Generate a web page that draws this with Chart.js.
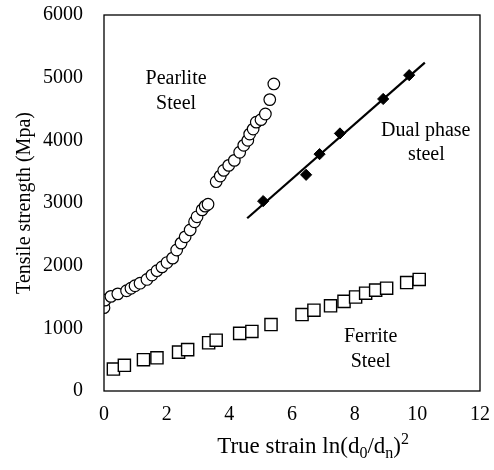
<!DOCTYPE html>
<html>
<head>
<meta charset="utf-8">
<script src="https://cdn.jsdelivr.net/npm/chart.js@4.4.0/dist/chart.umd.min.js"></script>
<style>
html, body { margin: 0; padding: 0; background: #fff; }
#wrap { width: 494px; height: 470px; }
</style>
</head>
<body>
<div id="wrap"><canvas id="chartSteel"></canvas></div>
<script>
// values
var pearliteX = [0.00, 0.03, 0.22, 0.44, 0.72, 0.86, 0.99, 1.15, 1.37, 1.53, 1.69, 1.85, 2.01, 2.19, 2.32, 2.46, 2.59, 2.75, 2.89, 2.97, 3.13, 3.23, 3.32,
                 3.58, 3.71, 3.82, 3.98, 4.16, 4.33, 4.46, 4.59, 4.65, 4.76, 4.86, 5.01, 5.15, 5.29, 5.42];
var pearliteY = [1330, 1450, 1510, 1550, 1600, 1640, 1680, 1720, 1780, 1850, 1920, 1980, 2050, 2120, 2250, 2360, 2460, 2570, 2700, 2780, 2890, 2950, 2980,
                 3340, 3430, 3520, 3600, 3680, 3810, 3920, 4000, 4100, 4180, 4290, 4330, 4420, 4650, 4900];

var ferriteX = [0.30, 0.65, 1.26, 1.69, 2.38, 2.67, 3.34, 3.58, 4.33, 4.72, 5.33, 6.32, 6.70, 7.23, 7.66, 8.03, 8.35, 8.67, 9.02, 9.66, 10.06];
var ferriteY = [350, 410, 500, 530, 620, 660, 770, 810, 920, 950, 1060, 1220, 1290, 1360, 1430, 1500, 1560, 1610, 1640, 1730, 1780];

var dualX = [5.08, 6.45, 6.88, 7.53, 8.91, 9.74];
var dualY = [3030, 3450, 3780, 4110, 4660, 5040];

// fitted line through the dual phase points (end points)
var dualLineX = [4.57, 10.24];
var dualLineY = [2756, 5239];

var xTicks = [0, 2, 4, 6, 8, 10, 12];
var yTicks = [0, 1000, 2000, 3000, 4000, 5000, 6000];

// text notes placed in data units
var notes = [
    { text: "Pearlite", x: 2.30, y: 4990 },
    { text: "Steel", x: 2.30, y: 4590 },
    { text: "Dual phase", x: 10.27, y: 4150 },
    { text: "steel", x: 10.29, y: 3765 },
    { text: "Ferrite", x: 8.51, y: 865 },
    { text: "Steel", x: 8.51, y: 465 }
];

var serif = "'Liberation Serif', 'Times New Roman', serif";

function toPoints(xs, ys) {
    var arr = [];
    for (var i = 0; i < xs.length; i++) {
        arr.push({ x: xs[i], y: ys[i] });
    }
    return arr;
}

var framePlugin = {
    id: 'frame',
    afterDatasetsDraw: function (chart) {
        var a = chart.chartArea;
        var ctx = chart.ctx;
        ctx.save();
        ctx.strokeStyle = '#000';
        ctx.lineWidth = 1.3;
        ctx.strokeRect(a.left, a.top, a.right - a.left, a.bottom - a.top);
        ctx.restore();
    }
};

var notesPlugin = {
    id: 'notes',
    afterDatasetsDraw: function (chart) {
        var ctx = chart.ctx;
        var xs = chart.scales.x, ys = chart.scales.y;
        ctx.save();
        ctx.fillStyle = '#000';
        ctx.font = "20px " + serif;
        ctx.textAlign = 'center';
        ctx.textBaseline = 'middle';
        notes.forEach(function (n) {
            ctx.fillText(n.text, xs.getPixelForValue(n.x), ys.getPixelForValue(n.y));
        });
        ctx.restore();
    }
};

// x title with sub/superscripts: True strain ln(d0/dn)^2
var xTitlePlugin = {
    id: 'xTitle',
    afterDraw: function (chart) {
        var ctx = chart.ctx;
        var a = chart.chartArea;
        var parts = [
            { t: "True strain ln(d", s: 0 },
            { t: "0", s: -1 },
            { t: "/d", s: 0 },
            { t: "n", s: -1 },
            { t: ")", s: 0 },
            { t: "2", s: 1 }
        ];
        ctx.save();
        ctx.fillStyle = '#000';
        ctx.textBaseline = 'alphabetic';
        ctx.textAlign = 'left';
        var total = 0;
        parts.forEach(function (p) {
            ctx.font = (p.s === 0 ? "23px " : "16px ") + serif;
            p.w = ctx.measureText(p.t).width;
            total += p.w;
        });
        var cx = a.left + (a.right - a.left) * 0.556;
        var x = cx - total / 2;
        var base = a.bottom + 62;
        parts.forEach(function (p) {
            ctx.font = (p.s === 0 ? "23px " : "16px ") + serif;
            var dy = p.s === -1 ? 5 : (p.s === 1 ? -9 : 0);
            ctx.fillText(p.t, x, base + dy);
            x += p.w;
        });
        ctx.restore();
    }
};

var chart = new Chart(document.getElementById('chartSteel'), {
    type: 'scatter',
    data: {
        datasets: [{
            label: "Pearlite Steel",
            data: toPoints(pearliteX, pearliteY),
            pointStyle: 'circle',
            pointRadius: 5.8,
            pointBorderWidth: 1.2,
            pointBackgroundColor: '#fff',
            pointBorderColor: '#000'
        }, {
            label: "Ferrite Steel",
            data: toPoints(ferriteX, ferriteY),
            pointStyle: 'rect',
            pointRadius: 8.6,
            pointBorderWidth: 1.4,
            pointBackgroundColor: '#fff',
            pointBorderColor: '#000'
        }, {
            label: "Dual phase steel",
            data: toPoints(dualX, dualY),
            pointStyle: 'rectRot',
            pointRadius: 5.6,
            pointBorderWidth: 1,
            pointBackgroundColor: '#000',
            pointBorderColor: '#000'
        }, {
            label: "Dual phase fit",
            data: toPoints(dualLineX, dualLineY),
            showLine: true,
            borderColor: '#000',
            borderWidth: 2.2,
            pointRadius: 0
        }]
    },
    options: {
        responsive: true,
        maintainAspectRatio: false,
        animation: false,
        layout: { padding: { top: 15, right: 14, left: 0, bottom: 0 } },
        plugins: {
            legend: { display: false },
            tooltip: { enabled: false }
        },
        scales: {
            x: {
                type: 'linear',
                min: 0,
                max: 12,
                grid: { display: false, drawTicks: false },
                border: { display: false },
                afterBuildTicks: function (scale) {
                    scale.ticks = xTicks.map(function (v) { return { value: v }; });
                },
                afterFit: function (scale) {
                    scale.height = 79;
                    scale.paddingLeft = 0;
                    scale.paddingRight = 0;
                },
                ticks: {
                    color: '#000',
                    padding: 12,
                    maxRotation: 0,
                    font: { family: serif, size: 20 }
                }
            },
            y: {
                type: 'linear',
                min: 0,
                max: 6000,
                grid: { display: false, drawTicks: false },
                border: { display: false },
                afterBuildTicks: function (scale) {
                    scale.ticks = yTicks.map(function (v) { return { value: v }; });
                },
                afterFit: function (scale) {
                    scale.width = 104;
                    scale.paddingTop = 0;
                    scale.paddingBottom = 0;
                },
                title: {
                    display: true,
                    text: "Tensile strength (Mpa)",
                    color: '#000',
                    padding: { top: 13, bottom: 0 },
                    font: { family: serif, size: 20 }
                },
                ticks: {
                    color: '#000',
                    padding: 21,
                    font: { family: serif, size: 20 },
                    callback: function (v) { return String(v); }
                }
            }
        }
    },
    plugins: [framePlugin, notesPlugin, xTitlePlugin]
});
</script>
</body>
</html>
